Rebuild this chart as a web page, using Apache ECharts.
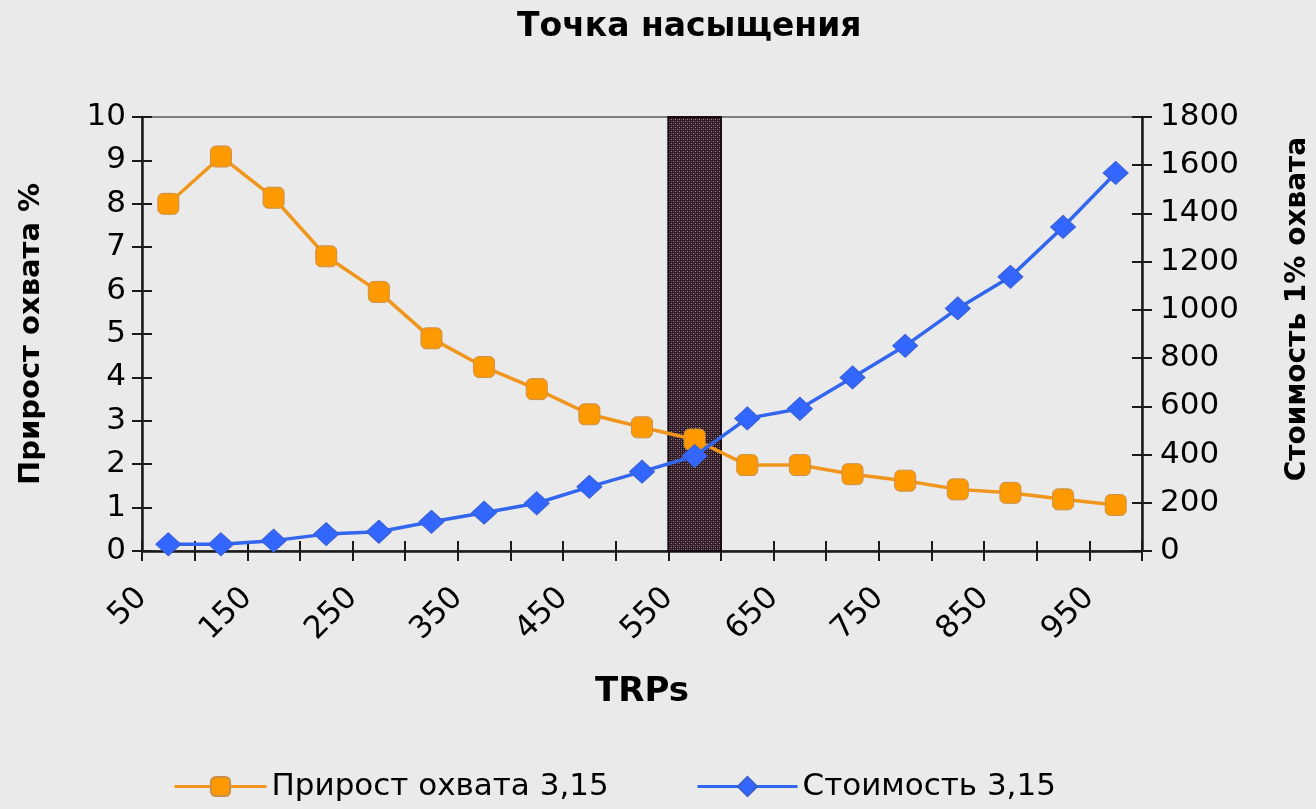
<!DOCTYPE html>
<html>
<head>
    <meta charset="utf-8">
    <title>Точка насыщения</title>
    <script src="https://cdn.jsdelivr.net/npm/echarts@6/dist/echarts.min.js"></script>
    <style>
        html, body { margin: 0; padding: 0; background: #eaeaea; }
        #main { width: 1316px; height: 809px; }
    </style>
</head>
<body>
<div id="main"></div>
<script type="text/javascript">
    // TRPs (середины интервалов)
    var trps = [75, 125, 175, 225, 275, 325, 375, 425, 475, 525, 575, 625, 675, 725, 775, 825, 875, 925, 975];
    // Прирост охвата, %
    var prirost = [8.0, 9.09, 8.14, 6.79, 5.97, 4.9, 4.24, 3.73, 3.15, 2.85, 2.57, 1.98, 1.98, 1.77, 1.62, 1.42, 1.34, 1.19, 1.06];
    // Стоимость 1% охвата
    var stoimost = [28, 28, 43, 70, 80, 121, 159, 198, 266, 329, 394, 550, 590, 720, 851, 1006, 1137, 1344, 1568];
    // точка насыщения (границы полосы)
    var saturation = [550, 600];

    var nameA = 'Прирост охвата 3,15';
    var nameB = 'Стоимость 3,15';

    function pairs(xs, ys) {
        var out = [];
        for (var i = 0; i < xs.length; i++) out.push([xs[i], ys[i]]);
        return out;
    }

    // узор для полосы
    var pat = document.createElement('canvas');
    pat.width = 4; pat.height = 4;
    var pc = pat.getContext('2d');
    pc.fillStyle = '#2e1c25';
    pc.fillRect(0, 0, 4, 4);
    pc.fillStyle = '#a88292';
    pc.fillRect(1, 1, 1, 1);
    pc.fillRect(3, 3, 1, 1);
    pc.fillStyle = '#6a4a58';
    pc.fillRect(3, 1, 1, 1);
    pc.fillRect(1, 3, 1, 1);

    var axisLine = { show: true, lineStyle: { color: '#1a1a1a', width: 2.5 } };
    var tickStyle = { color: '#1a1a1a', width: 2 };
    var font = 'DejaVu Sans';

    var myChart = echarts.init(document.getElementById('main'));
    var option = {
        backgroundColor: '#eaeaea',
        title: {
            text: 'Точка насыщения',
            left: 512,
            top: 6,
            textStyle: { fontFamily: font, fontWeight: 'bold', fontSize: 33, color: '#000' }
        },
        legend: [{
            data: [nameA],
            left: 168,
            top: 766,
            itemWidth: 92,
            itemHeight: 24,
            itemGap: 8,
            lineStyle: { width: 3 },
            textStyle: { fontFamily: font, fontSize: 31, color: '#000' }
        }, {
            data: [nameB],
            left: 691,
            top: 766,
            itemWidth: 100,
            itemHeight: 24,
            lineStyle: { width: 3 },
            textStyle: { fontFamily: font, fontSize: 31, color: '#000' }
        }],
        grid: {
            left: 142,
            right: 174,
            top: 117,
            bottom: 258,
            outerBoundsMode: 'none',
            show: true,
            borderColor: '#7f7f7f',
            borderWidth: 2,
            backgroundColor: 'transparent'
        },
        xAxis: [{
            type: 'value',
            min: 50,
            max: 1000,
            interval: 50,
            name: 'TRPs',
            nameLocation: 'middle',
            nameGap: 124,
            nameTextStyle: { fontFamily: font, fontWeight: 'bold', fontSize: 34, color: '#000' },
            axisLine: axisLine,
            axisTick: { show: true, inside: false, length: 10, lineStyle: tickStyle },
            axisLabel: {
                rotate: 45,
                margin: 42,
                fontFamily: font,
                fontSize: 31,
                color: '#000',
                formatter: function (v) { return (v - 50) % 100 === 0 ? String(v) : ''; }
            },
            splitLine: { show: false }
        }, {
            type: 'value',
            position: 'bottom',
            min: 50,
            max: 1000,
            interval: 50,
            axisLine: { show: false },
            axisTick: { show: true, inside: true, length: 10, lineStyle: tickStyle },
            axisLabel: { show: false },
            splitLine: { show: false }
        }],
        yAxis: [{
            type: 'value',
            position: 'left',
            min: 0,
            max: 10,
            interval: 1,
            name: 'Прирост охвата %',
            nameLocation: 'middle',
            nameGap: 96,
            nameTextStyle: { fontFamily: font, fontWeight: 'bold', fontSize: 29, color: '#000' },
            axisLine: axisLine,
            axisTick: { show: true, inside: false, length: 10, lineStyle: tickStyle },
            axisLabel: { margin: 16, fontFamily: font, fontSize: 31, color: '#000' },
            splitLine: { show: false }
        }, {
            type: 'value',
            position: 'right',
            min: 0,
            max: 1800,
            interval: 200,
            name: 'Стоимость 1% охвата',
            nameLocation: 'middle',
            nameGap: 142,
            nameTextStyle: { fontFamily: font, fontWeight: 'bold', fontSize: 28, color: '#000', padding: [0, 0, 0, 50] },
            axisLine: axisLine,
            axisTick: { show: true, inside: false, length: 10, lineStyle: tickStyle },
            axisLabel: {
                margin: 18,
                fontFamily: font,
                fontSize: 31,
                color: '#000',
                formatter: function (v) { return String(v); }
            },
            splitLine: { show: false }
        }, {
            type: 'value',
            position: 'left',
            min: 0,
            max: 10,
            interval: 1,
            axisLine: { show: false },
            axisTick: { show: true, inside: true, length: 10, lineStyle: tickStyle },
            axisLabel: { show: false },
            splitLine: { show: false }
        }, {
            type: 'value',
            position: 'right',
            min: 0,
            max: 1800,
            interval: 200,
            axisLine: { show: false },
            axisTick: { show: true, inside: true, length: 10, lineStyle: tickStyle },
            axisLabel: { show: false },
            splitLine: { show: false }
        }],
        series: [{
            name: nameA,
            type: 'line',
            xAxisIndex: 0,
            yAxisIndex: 0,
            data: pairs(trps, prirost),
            symbol: 'roundRect',
            symbolSize: 21,
            lineStyle: { color: '#f0961c', width: 3.5 },
            itemStyle: { color: '#ff9900', borderColor: '#c9904a', borderWidth: 1 },
            markArea: {
                silent: true,
                itemStyle: {
                    color: { image: pat, repeat: 'repeat' },
                    borderColor: '#140a10',
                    borderWidth: 2,
                    opacity: 1
                },
                data: [[{ xAxis: saturation[0] }, { xAxis: saturation[1] }]]
            },
            z: 3
        }, {
            name: nameB,
            type: 'line',
            xAxisIndex: 0,
            yAxisIndex: 1,
            data: pairs(trps, stoimost),
            symbol: 'diamond',
            symbolSize: [25, 23],
            lineStyle: { color: '#3366ee', width: 3.5 },
            itemStyle: { color: '#3366ff', borderColor: '#3a5fd0', borderWidth: 1 },
            z: 4
        }]
    };
    myChart.setOption(option);
</script>
</body>
</html>
